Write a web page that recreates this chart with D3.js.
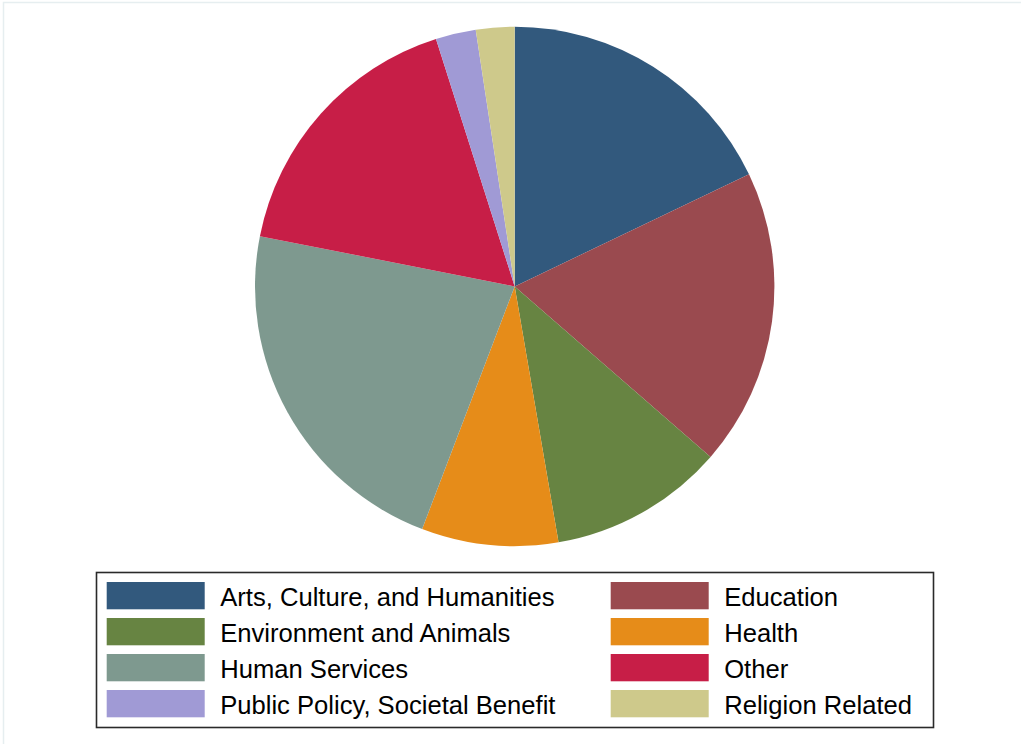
<!DOCTYPE html>
<html>
<head>
<meta charset="utf-8">
<script src="https://cdn.jsdelivr.net/npm/d3@7"></script>
<style>
  html, body { margin: 0; padding: 0; background: #fff; }
  svg { display: block; }
  text { font-family: "Liberation Sans", Arial, Helvetica, sans-serif; }
</style>
</head>
<body>
<svg id="chart" width="1021" height="744"></svg>
<script>
// Share of organisations by sector (percent)
const categories = [
  "Arts, Culture, and Humanities",
  "Education",
  "Environment and Animals",
  "Health",
  "Human Services",
  "Other",
  "Public Policy, Societal Benefit",
  "Religion Related"
];
const shares = [17.9, 18.5, 10.9, 8.5, 22.3, 17.0, 2.5, 2.4];
const colors = ["#32597d", "#9a4a4f", "#678442", "#e68c19", "#7e998f", "#c71e47", "#a09ad5", "#cec98b"];

const W = 1021, H = 744;
const svg = d3.select("#chart");

// outer graph frame
svg.append("rect")
  .attr("x", 3.5).attr("y", 2.5)
  .attr("width", W + 10).attr("height", H + 10)
  .attr("fill", "none")
  .attr("stroke", "#e6eef0")
  .attr("stroke-width", 1.5);

const cx = 514.7, cy = 286.4, r = 259.7;

const data = categories.map((c, i) => ({ name: c, value: shares[i], color: colors[i] }));
const pie = d3.pie().value(d => d.value).sort(null);
const arc = d3.arc().innerRadius(0).outerRadius(r);

svg.append("g")
  .attr("transform", `translate(${cx},${cy})`)
  .selectAll("path")
  .data(pie(data))
  .join("path")
  .attr("d", arc)
  .attr("fill", d => d.data.color);

// legend: two columns, four rows
const legend = svg.append("g");
legend.append("rect")
  .attr("x", 96.5).attr("y", 572.5)
  .attr("width", 837).attr("height", 155)
  .attr("fill", "#fff")
  .attr("stroke", "#2a2a2a")
  .attr("stroke-width", 1.6);

const colX = [106.7, 610.7];
const rowY0 = 582, rowStep = 36;
const swW = 98, swH = 27.3;

const items = legend.selectAll("g.item")
  .data(data)
  .join("g")
  .attr("class", "item")
  .attr("transform", (d, i) => `translate(${colX[i % 2]},${rowY0 + Math.floor(i / 2) * rowStep})`);

items.append("rect")
  .attr("width", swW).attr("height", swH)
  .attr("fill", d => d.color);

items.append("text")
  .attr("x", 113.5)
  .attr("y", 23.5)
  .attr("font-size", "25.6px")
  .attr("fill", "#000")
  .text(d => d.name);
</script>
</body>
</html>
